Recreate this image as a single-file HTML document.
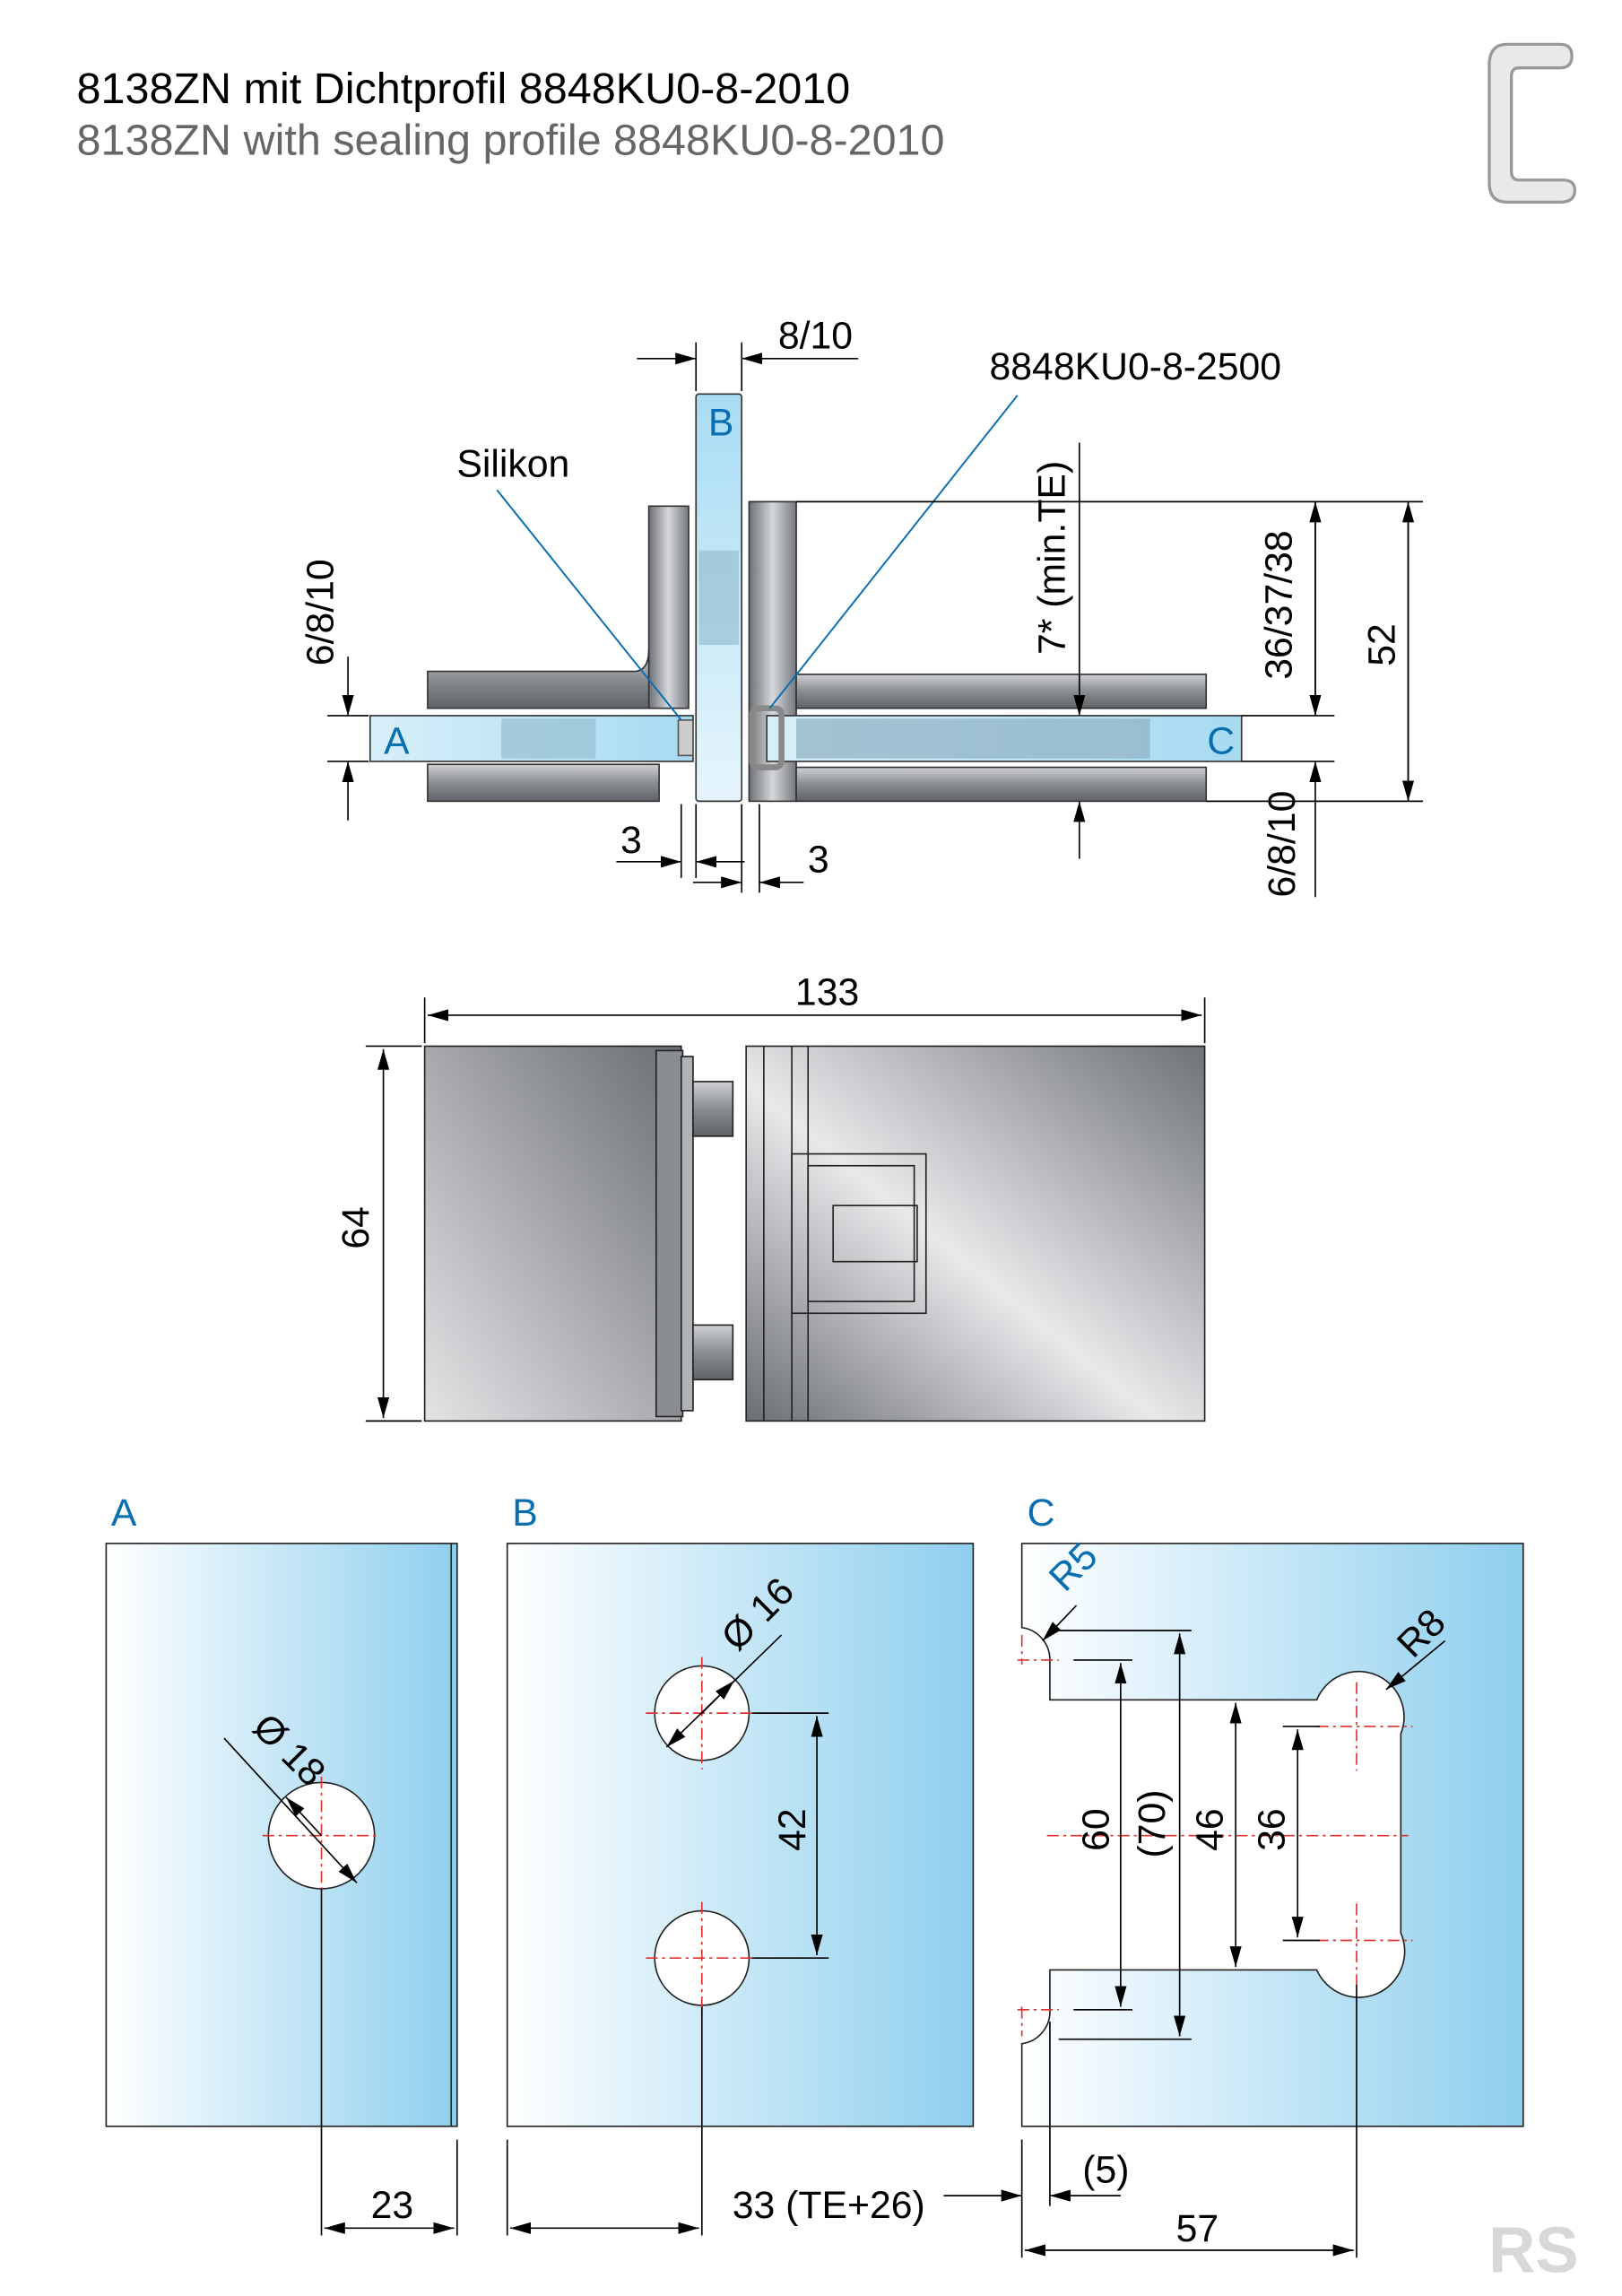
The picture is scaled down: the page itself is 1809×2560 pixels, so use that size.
<!DOCTYPE html>
<html><head><meta charset="utf-8"><style>
html,body{margin:0;padding:0;background:#fff}
svg{display:block}
text{font-family:"Liberation Sans",sans-serif}
</style></head><body>
<svg width="1809" height="2560" viewBox="0 0 1100 1556" preserveAspectRatio="none" xmlns="http://www.w3.org/2000/svg">
<defs>
<marker id="ar" markerWidth="14" markerHeight="8" refX="14" refY="4" orient="auto-start-reverse" markerUnits="userSpaceOnUse"><path d="M0,0 L14,4 L0,8 Z" fill="#000"/></marker>
<linearGradient id="glassH" x1="0" y1="0" x2="1" y2="0"><stop offset="0" stop-color="#ffffff"/><stop offset="1" stop-color="#8ecfee"/></linearGradient>
<linearGradient id="glassV" x1="0" y1="0" x2="0" y2="1"><stop offset="0" stop-color="#a8dcf3"/><stop offset="1" stop-color="#e6f5fc"/></linearGradient>
<linearGradient id="glassB" x1="0" y1="0" x2="1" y2="0"><stop offset="0" stop-color="#d8eff9"/><stop offset="1" stop-color="#a7daf2"/></linearGradient>
<linearGradient id="metal" x1="0" y1="0" x2="1" y2="0"><stop offset="0" stop-color="#6d7074"/><stop offset="0.5" stop-color="#d6d8db"/><stop offset="1" stop-color="#75787c"/></linearGradient>
<linearGradient id="metalV" x1="0" y1="0" x2="0" y2="1"><stop offset="0" stop-color="#cfd1d4"/><stop offset="0.5" stop-color="#8a8d91"/><stop offset="1" stop-color="#5f6266"/></linearGradient>
<linearGradient id="bodyL" x1="0" y1="1" x2="1" y2="0"><stop offset="0" stop-color="#e3e4e6"/><stop offset="1" stop-color="#6b6e72"/></linearGradient>
<linearGradient id="bodyR" x1="0" y1="1" x2="1" y2="0"><stop offset="0" stop-color="#6b6e72"/><stop offset="0.45" stop-color="#e8e9eb"/><stop offset="1" stop-color="#6f7276"/></linearGradient>
</defs>

<text x="52" y="70" font-size="29.5" fill="#000">8138ZN mit Dichtprofil 8848KU0-8-2010</text>
<text x="52" y="105" font-size="29.5" fill="#666">8138ZN with sealing profile 8848KU0-8-2010</text>
<path d="M1066,38 Q1066,30 1058,30 H1022 Q1010,30 1010,44 V124 Q1010,137 1022,137 H1058 Q1068,137 1068,129 Q1068,122 1060,122 H1030 Q1025,122 1025,116 V52 Q1025,46 1030,46 H1058 Q1066,46 1066,38 Z" fill="#e8e9ea" stroke="#999" stroke-width="2"/>

<rect x="440" y="343" width="27" height="137" fill="url(#metal)" stroke="#333" stroke-width="1"/>
<path d="M290,455 H430 Q440,455 440,440 V480 H290 Z" fill="url(#metalV)" stroke="#333" stroke-width="1"/>
<rect x="290" y="518" width="157" height="25" fill="url(#metalV)" stroke="#333" stroke-width="1"/>
<rect x="508" y="340" width="32" height="203" fill="url(#metal)" stroke="#333" stroke-width="1"/>
<rect x="540" y="457" width="278" height="23" fill="url(#metalV)" stroke="#333" stroke-width="1"/>
<rect x="540" y="520" width="278" height="23" fill="url(#metalV)" stroke="#333" stroke-width="1"/>
<rect x="251" y="485" width="219" height="31" fill="url(#glassB)" stroke="#333" stroke-width="1"/>
<rect x="340" y="487" width="64" height="27" fill="#8fb9cc" opacity="0.6"/>
<rect x="520" y="485" width="322" height="31" fill="url(#glassB)" stroke="#333" stroke-width="1"/>
<rect x="540" y="487" width="240" height="27" fill="#8fb0c2" opacity="0.7"/>
<rect x="472" y="267" width="31" height="276" rx="2" fill="url(#glassV)" stroke="#333" stroke-width="1"/>
<rect x="474" y="373" width="27" height="64" fill="#8fb9cc" opacity="0.6"/>
<rect x="510" y="480" width="20" height="40" rx="4" fill="none" stroke="#888" stroke-width="4"/>
<rect x="460" y="488" width="10" height="24" fill="#ccc" stroke="#555" stroke-width="1"/>
<line x1="337" y1="332" x2="462" y2="488" stroke="#0a6fb0" stroke-width="1.2"/>
<line x1="690" y1="268" x2="522" y2="480" stroke="#0a6fb0" stroke-width="1.2"/>
<g stroke="#000" stroke-width="1" fill="none">
<line x1="472" y1="232" x2="472" y2="265"/><line x1="503" y1="232" x2="503" y2="265"/>
<line x1="432" y1="243" x2="472" y2="243" marker-end="url(#ar)"/>
<line x1="582" y1="243" x2="503" y2="243" marker-end="url(#ar)"/>
<line x1="222" y1="485" x2="250" y2="485"/><line x1="222" y1="516" x2="250" y2="516"/>
<line x1="236" y1="445" x2="236" y2="485" marker-end="url(#ar)"/>
<line x1="236" y1="556" x2="236" y2="516" marker-end="url(#ar)"/>
<line x1="732" y1="300" x2="732" y2="485" marker-end="url(#ar)"/>
<line x1="732" y1="582" x2="732" y2="543" marker-end="url(#ar)"/>
<line x1="540" y1="340" x2="965" y2="340"/>
<line x1="842" y1="485" x2="905" y2="485"/><line x1="842" y1="516" x2="905" y2="516"/>
<line x1="818" y1="543" x2="965" y2="543"/>
<line x1="892" y1="485" x2="892" y2="340" marker-end="url(#ar)"/>
<line x1="892" y1="340" x2="892" y2="485" marker-end="url(#ar)"/>
<line x1="955" y1="543" x2="955" y2="340" marker-end="url(#ar)"/>
<line x1="955" y1="340" x2="955" y2="543" marker-end="url(#ar)"/>
<line x1="892" y1="608" x2="892" y2="516" marker-end="url(#ar)"/>
<line x1="462" y1="545" x2="462" y2="595"/><line x1="472" y1="545" x2="472" y2="595"/>
<line x1="503" y1="545" x2="503" y2="605"/><line x1="515" y1="545" x2="515" y2="605"/>
<line x1="418" y1="584" x2="462" y2="584" marker-end="url(#ar)"/>
<line x1="505" y1="584" x2="472" y2="584" marker-end="url(#ar)"/>
<line x1="470" y1="598" x2="503" y2="598" marker-end="url(#ar)"/>
<line x1="545" y1="598" x2="515" y2="598" marker-end="url(#ar)"/>
</g>
<text x="553" y="236" font-size="26" text-anchor="middle">8/10</text>
<text x="770" y="257" font-size="26" text-anchor="middle">8848KU0-8-2500</text>
<text x="348" y="323" font-size="26" text-anchor="middle">Silikon</text>
<text x="489" y="295" font-size="26" text-anchor="middle" fill="#0a6fb0">B</text>
<text x="269" y="511" font-size="26" text-anchor="middle" fill="#0a6fb0">A</text>
<text x="828" y="511" font-size="26" text-anchor="middle" fill="#0a6fb0">C</text>
<text transform="translate(226,415) rotate(-90)" font-size="26" text-anchor="middle">6/8/10</text>
<text transform="translate(722,378) rotate(-90)" font-size="26" text-anchor="middle">7* (min.TE)</text>
<text transform="translate(876,410) rotate(-90)" font-size="26" text-anchor="middle">36/37/38</text>
<text transform="translate(946,437) rotate(-90)" font-size="26" text-anchor="middle">52</text>
<text transform="translate(878,572) rotate(-90)" font-size="26" text-anchor="middle">6/8/10</text>
<text x="428" y="578" font-size="26" text-anchor="middle">3</text>
<text x="555" y="591" font-size="26" text-anchor="middle">3</text>

<rect x="288" y="709" width="174" height="254" fill="url(#bodyL)" stroke="#222" stroke-width="1"/>
<rect x="445" y="712" width="18" height="248" fill="#8a8d91" stroke="#222" stroke-width="1"/>
<rect x="462" y="716" width="8" height="240" fill="#b0b2b5" stroke="#222" stroke-width="1"/>
<rect x="470" y="733" width="27" height="37" fill="url(#metalV)" stroke="#222" stroke-width="1"/>
<rect x="470" y="898" width="27" height="37" fill="url(#metalV)" stroke="#222" stroke-width="1"/>
<rect x="506" y="709" width="311" height="254" fill="url(#bodyR)" stroke="#222" stroke-width="1"/>
<line x1="518" y1="709" x2="518" y2="963" stroke="#222"/>
<line x1="537" y1="709" x2="537" y2="963" stroke="#222"/>
<line x1="548" y1="709" x2="548" y2="963" stroke="#222"/>
<rect x="537" y="782" width="91" height="108" fill="none" stroke="#222"/>
<rect x="548" y="790" width="72" height="92" fill="none" stroke="#222"/>
<rect x="565" y="817" width="57" height="38" fill="none" stroke="#222"/>
<g stroke="#000" stroke-width="1" fill="none">
<line x1="288" y1="676" x2="288" y2="707"/><line x1="817" y1="676" x2="817" y2="707"/>
<line x1="290" y1="688" x2="815" y2="688" marker-start="url(#ar)" marker-end="url(#ar)"/>
<line x1="248" y1="709" x2="286" y2="709"/><line x1="248" y1="963" x2="286" y2="963"/>
<line x1="260" y1="711" x2="260" y2="961" marker-start="url(#ar)" marker-end="url(#ar)"/>
</g>
<text x="561" y="681" font-size="26" text-anchor="middle">133</text>
<text transform="translate(250,832) rotate(-90)" font-size="26" text-anchor="middle">64</text>

<text x="84" y="1034" font-size="26" text-anchor="middle" fill="#0a6fb0">A</text>
<text x="356" y="1034" font-size="26" text-anchor="middle" fill="#0a6fb0">B</text>
<text x="706" y="1034" font-size="26" text-anchor="middle" fill="#0a6fb0">C</text>

<rect x="72" y="1046" width="238" height="395" fill="url(#glassH)" stroke="#222" stroke-width="1"/>
<line x1="306" y1="1046" x2="306" y2="1441" stroke="#222"/>
<circle cx="218" cy="1244" r="36" fill="#fff" stroke="#222"/>
<rect x="344" y="1046" width="316" height="395" fill="url(#glassH)" stroke="#222" stroke-width="1"/>
<circle cx="476" cy="1161" r="32" fill="#fff" stroke="#222"/>
<circle cx="476" cy="1327" r="32" fill="#fff" stroke="#222"/>
<path d="M693,1046 H1033 V1441 H693 V1385 A22,22 0 0 0 712,1362 V1335 H893 A28,28 0 0 0 950,1310 V1175 A28,28 0 0 0 893,1152 H712 V1125 A22,22 0 0 0 693,1103 Z" fill="url(#glassH)" stroke="#222" stroke-width="1"/>

<g stroke="#e03030" stroke-width="1" stroke-dasharray="8,3,2,3" fill="none">
<line x1="178" y1="1244" x2="258" y2="1244"/><line x1="218" y1="1204" x2="218" y2="1284"/>
<line x1="438" y1="1161" x2="514" y2="1161"/><line x1="476" y1="1123" x2="476" y2="1199"/>
<line x1="438" y1="1327" x2="514" y2="1327"/><line x1="476" y1="1289" x2="476" y2="1365"/>
<line x1="710" y1="1244" x2="955" y2="1244"/>
<line x1="893" y1="1170" x2="958" y2="1170"/><line x1="893" y1="1315" x2="958" y2="1315"/>
<line x1="920" y1="1140" x2="920" y2="1200"/><line x1="920" y1="1290" x2="920" y2="1345"/>
<line x1="690" y1="1125" x2="718" y2="1125"/><line x1="690" y1="1362" x2="718" y2="1362"/>
<line x1="693" y1="1108" x2="693" y2="1128"/><line x1="693" y1="1360" x2="693" y2="1380"/>
</g>

<g stroke="#000" stroke-width="1" fill="none">
<line x1="152" y1="1178" x2="242" y2="1276" marker-end="url(#ar)"/>
<line x1="218" y1="1244" x2="194" y2="1218" marker-end="url(#ar)"/>
<line x1="218" y1="1280" x2="218" y2="1515"/>
<line x1="310" y1="1450" x2="310" y2="1515"/>
<line x1="220" y1="1510" x2="308" y2="1510" marker-start="url(#ar)" marker-end="url(#ar)"/>
<line x1="530" y1="1108" x2="452" y2="1184" marker-end="url(#ar)"/>
<line x1="476" y1="1161" x2="498" y2="1139" marker-end="url(#ar)"/>
<line x1="510" y1="1161" x2="562" y2="1161"/><line x1="510" y1="1327" x2="562" y2="1327"/>
<line x1="554" y1="1163" x2="554" y2="1325" marker-start="url(#ar)" marker-end="url(#ar)"/>
<line x1="476" y1="1360" x2="476" y2="1515"/>
<line x1="344" y1="1450" x2="344" y2="1515"/>
<line x1="346" y1="1510" x2="474" y2="1510" marker-start="url(#ar)" marker-end="url(#ar)"/>
<line x1="693" y1="1450" x2="693" y2="1530"/>
<line x1="712" y1="1370" x2="712" y2="1495"/>
<line x1="640" y1="1488" x2="693" y2="1488" marker-end="url(#ar)"/>
<line x1="760" y1="1488" x2="712" y2="1488" marker-end="url(#ar)"/>
<line x1="920" y1="1345" x2="920" y2="1530"/>
<line x1="695" y1="1525" x2="918" y2="1525" marker-start="url(#ar)" marker-end="url(#ar)"/>
<line x1="730" y1="1088" x2="707" y2="1112" marker-end="url(#ar)"/>
<line x1="980" y1="1112" x2="940" y2="1145" marker-end="url(#ar)"/>
<line x1="718" y1="1105" x2="808" y2="1105"/><line x1="718" y1="1382" x2="808" y2="1382"/>
<line x1="728" y1="1125" x2="768" y2="1125"/><line x1="728" y1="1362" x2="768" y2="1362"/>
<line x1="760" y1="1127" x2="760" y2="1360" marker-start="url(#ar)" marker-end="url(#ar)"/>
<line x1="800" y1="1107" x2="800" y2="1380" marker-start="url(#ar)" marker-end="url(#ar)"/>
<line x1="838" y1="1154" x2="838" y2="1333" marker-start="url(#ar)" marker-end="url(#ar)"/>
<line x1="870" y1="1170" x2="895" y2="1170"/><line x1="870" y1="1315" x2="895" y2="1315"/>
<line x1="880" y1="1172" x2="880" y2="1313" marker-start="url(#ar)" marker-end="url(#ar)"/>
</g>
<text transform="translate(190,1192) rotate(45)" font-size="26" text-anchor="middle">Ø 18</text>
<text transform="translate(520,1100) rotate(-45)" font-size="26" text-anchor="middle">Ø 16</text>
<text transform="translate(546,1240) rotate(-90)" font-size="26" text-anchor="middle">42</text>
<text transform="translate(734,1068) rotate(-45)" font-size="26" text-anchor="middle" fill="#0a6fb0">R5</text>
<text transform="translate(970,1113) rotate(-45)" font-size="26" text-anchor="middle">R8</text>
<text transform="translate(752,1240) rotate(-90)" font-size="26" text-anchor="middle">60</text>
<text transform="translate(790,1236) rotate(-90)" font-size="26" text-anchor="middle">(70)</text>
<text transform="translate(829,1240) rotate(-90)" font-size="26" text-anchor="middle">46</text>
<text transform="translate(871,1240) rotate(-90)" font-size="26" text-anchor="middle">36</text>
<text x="266" y="1503" font-size="26" text-anchor="middle">23</text>
<text x="562" y="1503" font-size="26" text-anchor="middle">33 (TE+26)</text>
<text x="750" y="1479" font-size="26" text-anchor="middle">(5)</text>
<text x="812" y="1519" font-size="26" text-anchor="middle">57</text>
<text x="1040" y="1540" font-size="44" font-weight="bold" fill="#d8d8d8" text-anchor="middle">RS</text>
</svg>
</body></html>
